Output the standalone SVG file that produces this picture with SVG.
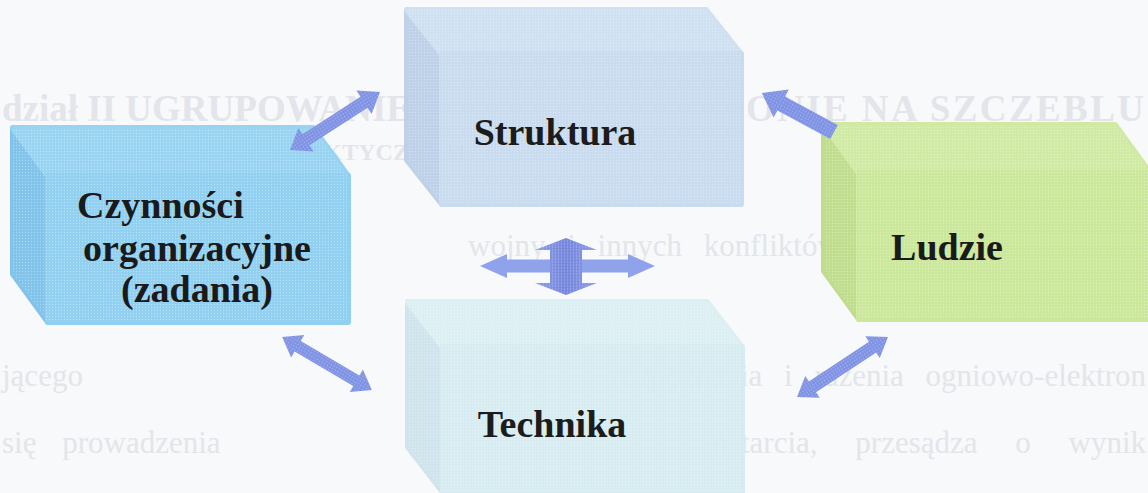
<svg xmlns="http://www.w3.org/2000/svg" width="1148" height="493" viewBox="0 0 1148 493">
  <defs>
    <!-- fine halftone grain laid over the blocks and arrows -->
    <pattern id="dots" width="3" height="3" patternUnits="userSpaceOnUse">
      <circle cx="1.5" cy="1.5" r="0.65" fill="#ffffff" opacity="0.35"/>
    </pattern>
    <linearGradient id="vGrad" x1="0" y1="0" x2="1" y2="0">
      <stop offset="0" stop-color="#8b9de8"/>
      <stop offset="0.5" stop-color="#7586dc"/>
      <stop offset="1" stop-color="#8b9de8"/>
    </linearGradient>
    <style>
      .face { stroke-width: 6; stroke-linejoin: round; }
      .grain { fill: url(#dots); stroke: none; }
      .label { font-family: "Liberation Serif", "Times New Roman", serif; font-weight: bold; font-size: 38px; fill: #111111; }
      .page { font-family: "Liberation Serif", "Times New Roman", serif; fill: #e3e5ea; }
      .arrow { fill: #7f92e4; }
    </style>
  </defs>

  <rect width="1148" height="493" fill="#f8f9fb"/>

  <!-- faint printed page text behind the figure -->
  <g id="page-text" class="page">
    <text x="2" y="121" font-weight="bold" font-size="37">dział II UGRUPOWANIE</text>
    <text x="746" y="121" font-weight="bold" font-size="37" textLength="398" lengthAdjust="spacing">ONIE NA SZCZEBLU</text>
    <text x="292" y="160" font-weight="bold" font-size="24">TAKTYCZNYM</text>
    <text x="468" y="256" font-size="31" word-spacing="14">wojny i innych konfliktów</text>
    <text x="2" y="386" font-size="31">jącego</text>
    <text x="1146" y="386" font-size="31" text-anchor="end" word-spacing="14">rozpoznania i rażenia ogniowo-elektron</text>
    <text x="2" y="453" font-size="31" word-spacing="18">się prowadzenia</text>
    <text x="1146" y="453" font-size="31" text-anchor="end" word-spacing="30">natarcia, przesądza o wynik</text>
  </g>

  <!-- Struktura block -->
  <g id="node-struktura" opacity="0.95">
    <path class="face" d="M407,10 L442,54 V204 L407,160 Z" fill="#bccfe8" stroke="#bccfe8"/>
    <path class="face" d="M407,10 H706 L741,54 H442 Z" fill="#cddff2" stroke="#cddff2"/>
    <rect class="face" x="442" y="54" width="299" height="150" fill="#c7daef" stroke="#c7daef"/>
    <path class="grain" d="M407,10 H706 L741,54 V204 H442 L407,160 Z"/>
    <text class="label" x="555" y="145" text-anchor="middle">Struktura</text>
  </g>

  <!-- Czynności organizacyjne block -->
  <g id="node-czynnosci" opacity="0.96">
    <path class="face" d="M13,128 L48,176 V322 L13,274 Z" fill="#7dc1ea" stroke="#7dc1ea"/>
    <path class="face" d="M13,128 H313 L348,176 H48 Z" fill="#95d3f2" stroke="#95d3f2"/>
    <rect class="face" x="48" y="176" width="300" height="146" fill="#8dcff1" stroke="#8dcff1"/>
    <path class="grain" d="M13,128 H313 L348,176 V322 H48 L13,274 Z"/>
    <text class="label" x="77" y="218">Czynności</text>
    <text class="label" x="197" y="261" text-anchor="middle">organizacyjne</text>
    <text class="label" x="197" y="302" text-anchor="middle">(zadania)</text>
  </g>

  <!-- Ludzie block -->
  <g id="node-ludzie" opacity="0.96">
    <path class="face" d="M824,125 L859,173 V319 L824,271 Z" fill="#bedc8a" stroke="#bedc8a"/>
    <path class="face" d="M824,125 H1115 L1150,173 H859 Z" fill="#cfeaa1" stroke="#cfeaa1"/>
    <rect class="face" x="859" y="173" width="300" height="146" fill="#c9e797" stroke="#c9e797"/>
    <path class="grain" d="M824,125 H1115 L1150,173 V319 H859 L824,271 Z"/>
    <text class="label" x="947" y="260" text-anchor="middle">Ludzie</text>
  </g>

  <!-- Technika block -->
  <g id="node-technika" opacity="0.95">
    <path class="face" d="M408,302 L443,347 V492 L408,447 Z" fill="#cde3ec" stroke="#cde3ec"/>
    <path class="face" d="M408,302 H707 L742,347 H443 Z" fill="#dbeff3" stroke="#dbeff3"/>
    <rect class="face" x="443" y="347" width="299" height="145" fill="#d6ecf1" stroke="#d6ecf1"/>
    <path class="grain" d="M408,302 H707 L742,347 V492 H443 L408,447 Z"/>
    <text class="label" x="552" y="437" text-anchor="middle">Technika</text>
  </g>

  <!-- connectors -->
  <g id="connectors">
    <!-- Czynności <-> Struktura -->
    <g transform="translate(335 121) rotate(-32.8)">
      <polygon class="arrow" points="-53.5,0 -34.5,-14 -34.5,-6.5 34.5,-6.5 34.5,-14 53.5,0 34.5,14 34.5,6.5 -34.5,6.5 -34.5,14"/>
      <polygon class="grain" points="-53.5,0 -34.5,-14 -34.5,-6.5 34.5,-6.5 34.5,-14 53.5,0 34.5,14 34.5,6.5 -34.5,6.5 -34.5,14"/>
    </g>
    <!-- Ludzie -> Struktura -->
    <g transform="translate(834 132) rotate(-151.6)">
      <polygon class="arrow" points="0,-8 60,-8 60,-16 82,0 60,16 60,8 0,8"/>
      <polygon class="grain" points="0,-8 60,-8 60,-16 82,0 60,16 60,8 0,8"/>
    </g>
    <!-- Czynności <-> Technika -->
    <g transform="translate(327 363.5) rotate(30.5)">
      <polygon class="arrow" points="-52,0 -34,-13 -34,-6 34,-6 34,-13 52,0 34,13 34,6 -34,6 -34,13"/>
      <polygon class="grain" points="-52,0 -34,-13 -34,-6 34,-6 34,-13 52,0 34,13 34,6 -34,6 -34,13"/>
    </g>
    <!-- Ludzie <-> Technika -->
    <g transform="translate(842.5 367) rotate(-33.4)">
      <polygon class="arrow" points="-54.5,0 -36,-13 -36,-6.5 36,-6.5 36,-13 54.5,0 36,13 36,6.5 -36,6.5 -36,13"/>
      <polygon class="grain" points="-54.5,0 -36,-13 -36,-6.5 36,-6.5 36,-13 54.5,0 36,13 36,6.5 -36,6.5 -36,13"/>
    </g>
    <!-- central cross: horizontal and vertical double arrows -->
    <g transform="translate(567.5 266)">
      <polygon fill="#8fa3ec" points="-87.5,0 -60.5,-12 -60.5,-6.5 60.5,-6.5 60.5,-12 87.5,0 60.5,12 60.5,6.5 -60.5,6.5 -60.5,12"/>
    </g>
    <g transform="translate(566 266.5)">
      <polygon fill="url(#vGrad)" points="0,-28.5 31,-16.5 16,-16.5 16,16.5 31,16.5 0,28.5 -31,16.5 -16,16.5 -16,-16.5 -31,-16.5"/>
      <polygon class="grain" points="0,-28.5 31,-16.5 16,-16.5 16,16.5 31,16.5 0,28.5 -31,16.5 -16,16.5 -16,-16.5 -31,-16.5"/>
    </g>
  </g>
</svg>
